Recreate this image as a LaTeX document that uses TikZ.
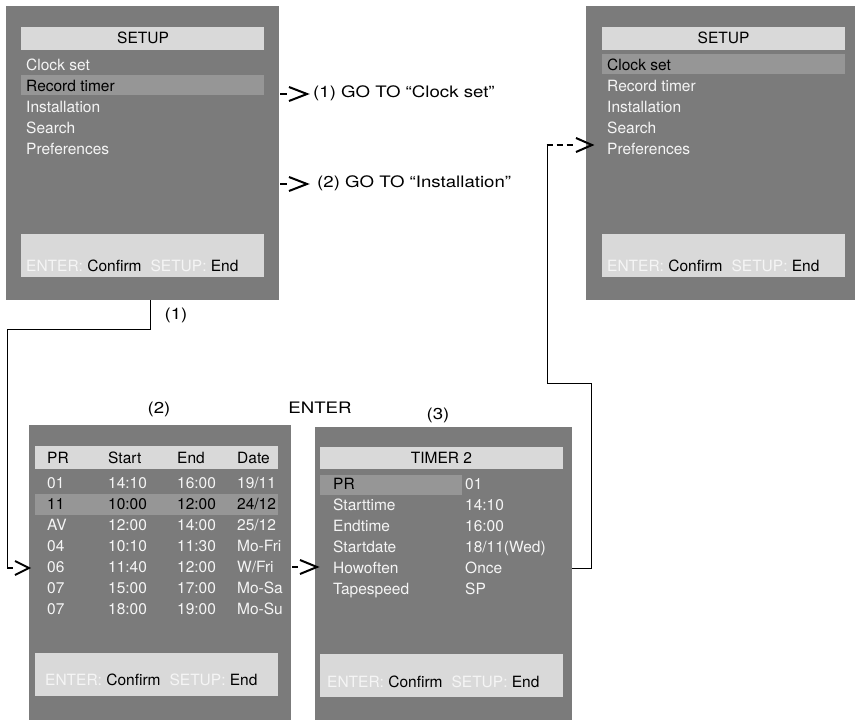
\documentclass[tikz,border=0pt]{standalone}
\usepackage{fontspec}
\setmainfont{TeX Gyre Heros}
\newfontfamily\widefont[FakeStretch=1.18]{TeX Gyre Heros}
\usetikzlibrary{calc}
\definecolor{panelgray}{RGB}{123,123,123}
\definecolor{bargray}{RGB}{217,217,217}
\definecolor{hlgray}{RGB}{150,150,150}
\definecolor{menuwhite}{RGB}{245,245,245}
\begin{document}
\begin{tikzpicture}[x=1pt,y=-1pt,
  panel/.style={fill=panelgray, inner sep=0pt, outer sep=0pt, anchor=north west},
  barbox/.style={fill=bargray, inner sep=0pt, outer sep=0pt, anchor=north west},
  hlbox/.style={fill=hlgray, inner sep=0pt, outer sep=0pt, anchor=north west},
  mtxt/.style={font=\fontsize{15.5}{18}\selectfont, text=menuwhite, anchor=base west, inner sep=0pt},
  dtxt/.style={mtxt, text=black},
  ttl/.style={font=\fontsize{15.5}{18}\selectfont, text=black, anchor=base, inner sep=0pt},
  foot/.style={font=\fontsize{15.5}{18}\selectfont, text=black, anchor=base west, inner sep=0pt},
  lbl/.style={font=\widefont\fontsize{15.8}{18}\selectfont, anchor=base, inner sep=0pt},
  lblw/.style={lbl, anchor=base west},
  conn/.style={draw=black, line width=1pt},
  chev/.style={draw=black, line width=2pt, line join=miter},
]
\useasboundingbox (0,0) rectangle (855,720);

\newcommand{\foottext}{{\color{menuwhite}ENTER:} Confirm\hspace{9pt}{\color{menuwhite}SETUP:} End}

% ---------- Panel 1 ----------
\node[panel, minimum width=273pt, minimum height=294pt] (p1) at (6,6) {};
\node[barbox, minimum width=243pt, minimum height=23pt] (p1t) at (21,27) {};
\node[ttl] (p1tt) at (143,43.5) {SETUP};
\node[hlbox, minimum width=243pt, minimum height=20pt] (p1h) at (21,75) {};
\node[mtxt] (p1a) at (26,70.5) {Clock set};
\node[dtxt] (p1b) at (26,91.5) {Record timer};
\node[mtxt] (p1c) at (26,112.5) {Installation};
\node[mtxt] (p1d) at (26,133.5) {Search};
\node[mtxt] (p1e) at (26,154.5) {Preferences};
\node[barbox, minimum width=243pt, minimum height=43pt] (p1f) at (21,234) {};
\node[foot] (p1ft) at (26,271.5) {\foottext};

% ---------- Panel 4 ----------
\node[panel, minimum width=269pt, minimum height=294pt] (p4) at (586,6) {};
\node[barbox, minimum width=243pt, minimum height=23pt] (p4t) at (602,27) {};
\node[ttl] (p4tt) at (723.5,43.5) {SETUP};
\node[hlbox, minimum width=243pt, minimum height=20pt] (p4h) at (602,54) {};
\node[dtxt] (p4a) at (607,70.5) {Clock set};
\node[mtxt] (p4b) at (607,91.5) {Record timer};
\node[mtxt] (p4c) at (607,112.5) {Installation};
\node[mtxt] (p4d) at (607,133.5) {Search};
\node[mtxt] (p4e) at (607,154.5) {Preferences};
\node[barbox, minimum width=243pt, minimum height=43pt] (p4f) at (602,234) {};
\node[foot] (p4ft) at (607,271.5) {\foottext};

% ---------- Panel 2 ----------
\node[panel, minimum width=262pt, minimum height=295pt] (p2) at (29,425) {};
\node[barbox, minimum width=243pt, minimum height=23pt] (p2t) at (35,446) {};
\node[hlbox, minimum width=243pt, minimum height=21pt] (p2h) at (35,494) {};
\node[dtxt] (p2h1) at (47,463.4) {PR};
\node[dtxt] (p2h2) at (108,463.4) {Start};
\node[dtxt] (p2h3) at (177,463.4) {End};
\node[dtxt] (p2h4) at (237,463.4) {Date};
\foreach \y/\a/\b/\c/\d/\s [count=\i] in {
  488.4/01/14:10/16:00/19\slash 11/mtxt,
  509.4/11/10:00/12:00/24\slash 12/dtxt,
  530.4/AV/12:00/14:00/25\slash 12/mtxt,
  551.4/04/10:10/11:30/Mo-Fri/mtxt,
  572.4/06/11:40/12:00/W\slash Fri/mtxt,
  593.4/07/15:00/17:00/Mo-Sa/mtxt,
  614.4/07/18:00/19:00/Mo-Su/mtxt}{
  \node[\s] (p2r\i a) at (47,\y) {\a};
  \node[\s] (p2r\i b) at (108,\y) {\b};
  \node[\s] (p2r\i c) at (177,\y) {\c};
  \node[\s] (p2r\i d) at (237,\y) {\d};
}
\node[barbox, minimum width=243pt, minimum height=43pt] (p2f) at (35,653) {};
\node[foot] (p2ft) at (45,685.5) {\foottext};

% ---------- Panel 3 ----------
\node[panel, minimum width=257pt, minimum height=293pt] (p3) at (315,427) {};
\node[barbox, minimum width=243pt, minimum height=22pt] (p3t) at (320,447) {};
\node[ttl] (p3tt) at (441.5,463.4) {TIMER 2};
\node[hlbox, minimum width=142pt, minimum height=20pt] (p3h) at (320,475) {};
\node[dtxt] (p3a) at (333,489.4) {PR};
\node[mtxt] (p3av) at (465,489.4) {01};
\node[mtxt] (p3b) at (333,510.4) {Starttime};
\node[mtxt] (p3bv) at (465,510.4) {14:10};
\node[mtxt] (p3c) at (333,531.4) {Endtime};
\node[mtxt] (p3cv) at (465,531.4) {16:00};
\node[mtxt] (p3d) at (333,552.4) {Startdate};
\node[mtxt] (p3dv) at (465,552.4) {18/11(Wed)};
\node[mtxt] (p3e) at (333,573.4) {Howoften};
\node[mtxt] (p3ev) at (465,573.4) {Once};
\node[mtxt] (p3f) at (333,594.4) {Tapespeed};
\node[mtxt] (p3fv) at (465,594.4) {SP};
\node[barbox, minimum width=243pt, minimum height=43pt] (p3ft) at (320,654) {};
\node[foot] (p3ftt) at (327,687.5) {\foottext};

% ---------- Labels ----------
\node[lblw] (g1) at (313,97) {(1) GO TO \char"201C Clock set\char"201D};
\node[lblw] (g2) at (317,187) {(2) GO TO \char"201C Installation\char"201D};
\node[lbl] (l1) at (176,319) {(1)};
\node[lbl] (l2) at (159,413) {(2)};
\node[lbl] (l3) at (320,413) {ENTER};
\node[lbl] (l4) at (438,419) {(3)};

% ---------- Connectors ----------
% GO TO arrows
\coordinate (a1) at ($(p1.north east)+(1,88)$);
\draw[chev] (a1) -- ++(7,0);
\draw[chev] ($(a1)+(9,-7)$) -- ($(a1)+(27,0)$) -- ($(a1)+(9,7)$);
\coordinate (a2) at ($(p1.north east)+(1,178)$);
\draw[chev] (a2) -- ++(7,0);
\draw[chev] ($(a2)+(9,-7)$) -- ($(a2)+(27,0)$) -- ($(a2)+(9,7)$);

% Panel 1 -> Panel 2
\coordinate (s1) at ($(p1.south west)+(144,0)$);
\coordinate (k1) at (150,329);
\coordinate (k2) at (7,329);
\coordinate (k3) at (7,568);
\draw[conn] (s1) -- (k1) -- (k2) -- (k3);
\draw[chev] (k3) -- (13,568);
\draw[chev] (15,561) -- (p2.west |- 0,568) -- (15,575);

% Panel 2 -> Panel 3
\coordinate (m1) at ($(p2.north east)+(1,142)$);
\draw[chev] (m1) -- ++(6,0);
\draw[chev] ($(m1)+(8,-7)$) -- ($(m1)+(25,0)$) -- ($(m1)+(8,7)$);

% Panel 3 -> Panel 4
\coordinate (e1) at ($(p3.north east)+(0,141)$);
\coordinate (e2) at (591,568);
\coordinate (e3) at (591,383);
\coordinate (e4) at (547,383);
\coordinate (e5) at (547,145);
\draw[conn] (e1) -- (e2) -- (e3) -- (e4) -- (e5);
\draw[chev, dash pattern=on 6pt off 4pt] (546.5,145) -- (573,145);
\draw[chev] (576,138) -- ($(p4.west |- 0,145)+(6,0)$) -- (576,152);
\end{tikzpicture}
\end{document}
